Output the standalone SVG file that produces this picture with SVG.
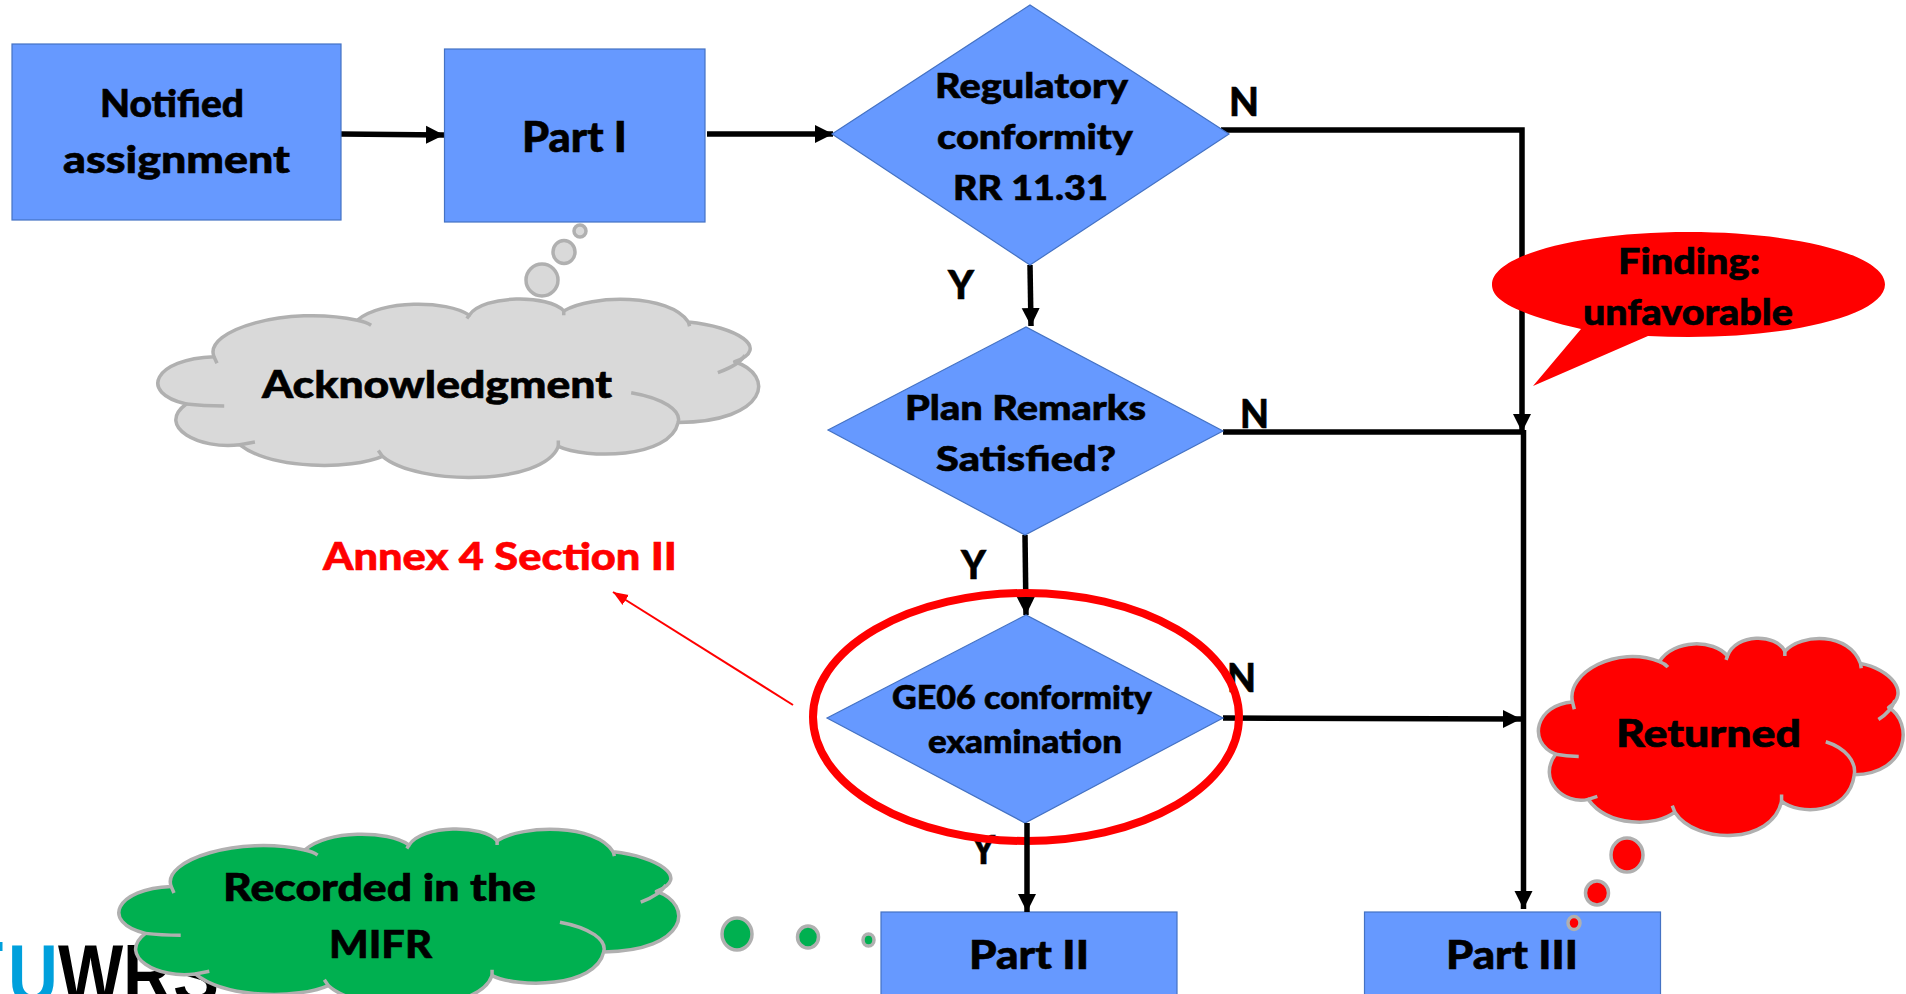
<svg xmlns="http://www.w3.org/2000/svg" xmlns:xlink="http://www.w3.org/1999/xlink" width="1906" height="994" viewBox="0 0 1906 994">
<style>
text{font-family:Lato,"Liberation Sans",sans-serif;font-weight:900;fill:#000;stroke:#000;stroke-width:.6;text-anchor:start}
.box{fill:#6699ff;stroke:#4472c4;stroke-width:1.2}
.o,.i{vector-effect:non-scaling-stroke;stroke:#b0b0b0;stroke-width:3.5}
.o{stroke-linejoin:round}
.i{fill:none}
.bub{stroke:#b0b0b0;stroke-width:3.5}
.c{fill:none;stroke:#000;stroke-width:5.500}
</style>
<defs>
<marker id="ah" markerUnits="userSpaceOnUse" markerWidth="19" markerHeight="19" refX="18" refY="9.5" orient="auto"><path d="M0,0.5L18,9.5L0,18.5z" fill="#000"/></marker>
<marker id="rh" markerUnits="userSpaceOnUse" markerWidth="16" markerHeight="14" refX="15" refY="7" orient="auto"><path d="M0,1L15,7L0,13z" fill="#f00"/></marker>
<g id="cl">
<path class="o" d="M93,328C75,180 215,40 331,124C370,10 480,10 517,96C540,-20 650,-20 674,72C720,-20 850,-25 881,134C960,160 1020,280 958,356C1026,430 1014,690 864,696C850,900 710,900 665,829C640,1050 430,1050 373,885C320,960 190,960 136,820C70,850 -5,720 47,592C-34,530 -6,340 93,328Z"/>
<path class="i" d="M93,328L98,365M331,124Q346,134 354,152M517,96L513,115M674,72L674,96M881,134L883,158M975,320Q965,375 930,417M786,529C840,560 870,630 864,696M665,829L665,796M373,885L366,852M136,820L161,805M47,592Q75,602 110,603"/>
</g>
</defs>
<rect width="1906" height="994" fill="#fff"/>
<g id="logo">
<rect x="0" y="942" width="2.500" height="9" fill="#00a0dc"/>
<text x="8" y="1003" font-size="84" style="font-family:'Liberation Sans',sans-serif;font-weight:700;stroke:none" textLength="211" lengthAdjust="spacingAndGlyphs"><tspan style="fill:#00a0dc">U</tspan>WRS</text>
</g>
<g id="connectors">
<path class="c" d="M341,134L444,135" marker-end="url(#ah)"/>
<path class="c" d="M707,134L833,134" marker-end="url(#ah)"/>
<path class="c" d="M1221,130H1522V432" marker-end="url(#ah)"/>
<path class="c" d="M1030,265L1031,326" marker-end="url(#ah)"/>
<path class="c" d="M1223,432H1523.500"/>
<path class="c" d="M1523.500,430V909" marker-end="url(#ah)"/>
<path class="c" d="M1025,535L1026,615" marker-end="url(#ah)"/>
<path class="c" d="M1223,718L1521,719" marker-end="url(#ah)"/>
<path d="M793,705L613,592" fill="none" stroke="#f00" stroke-width="2" marker-end="url(#rh)"/>
</g>
<g id="notified"><rect class="box" x="12" y="44" width="329" height="176"/><text x="100" y="117" font-size="38" textLength="144" lengthAdjust="spacingAndGlyphs">Notified</text><text x="63" y="173" font-size="38" textLength="227" lengthAdjust="spacingAndGlyphs">assignment</text></g>
<g id="part1"><rect class="box" x="444.500" y="49" width="260.500" height="173"/><text x="522" y="152" font-size="42" textLength="105" lengthAdjust="spacingAndGlyphs">Part I</text></g>
<g id="d1"><path class="box" d="M832,134L1030,5L1229,134L1030,265Z"/><text x="935" y="98" font-size="35" textLength="193" lengthAdjust="spacingAndGlyphs">Regulatory</text><text x="937" y="149" font-size="35" textLength="196" lengthAdjust="spacingAndGlyphs">conformity</text><text x="953" y="200" font-size="35" textLength="155" lengthAdjust="spacingAndGlyphs">RR 11.31</text></g>
<g id="d2"><path class="box" d="M828,430L1026,327L1223,431L1025,535Z"/><text x="905" y="420" font-size="35" textLength="241" lengthAdjust="spacingAndGlyphs">Plan Remarks</text><text x="936" y="471" font-size="35" textLength="180" lengthAdjust="spacingAndGlyphs">Satisfied?</text></g>
<g id="d3"><path class="box" d="M827,718L1026,615L1223,718L1025,823Z"/><text x="892" y="709" font-size="32" textLength="260" lengthAdjust="spacingAndGlyphs">GE06 conformity</text><text x="928" y="753" font-size="32" textLength="194" lengthAdjust="spacingAndGlyphs">examination</text></g>
<g id="part2"><rect class="box" x="881" y="912" width="296" height="90"/><text x="969" y="969" font-size="40" textLength="120" lengthAdjust="spacingAndGlyphs">Part II</text></g>
<g id="part3"><rect class="box" x="1364.500" y="912" width="296" height="90"/><text x="1446" y="969" font-size="40" textLength="132" lengthAdjust="spacingAndGlyphs">Part III</text></g>
<g id="labels">
<text x="1229" y="116" font-size="40" textLength="30" lengthAdjust="spacingAndGlyphs">N</text>
<text x="948" y="299" font-size="40" textLength="26" lengthAdjust="spacingAndGlyphs">Y</text>
<text x="1240" y="428" font-size="40" textLength="29" lengthAdjust="spacingAndGlyphs">N</text>
<text x="961" y="579" font-size="40" textLength="25" lengthAdjust="spacingAndGlyphs">Y</text>
<text x="1227" y="692" font-size="40" textLength="29" lengthAdjust="spacingAndGlyphs">N</text>
<text x="972" y="864" font-size="40" textLength="23" lengthAdjust="spacingAndGlyphs">Y</text>
</g>
<g id="highlight"><ellipse cx="1026" cy="717" rx="213" ry="124" fill="none" stroke="#f00" stroke-width="8"/></g>
<path class="c" d="M1027,823V912" marker-end="url(#ah)"/>
<g id="annex"><text x="323" y="570" font-size="38" style="fill:#f00;stroke:#f00" textLength="354" lengthAdjust="spacingAndGlyphs">Annex 4 Section II</text></g>
<g id="finding"><path d="M1581,329C1500,310 1492,295 1492,284.500C1492,255 1580,232 1688.500,232C1797,232 1885,255 1885,284.500C1885,314 1797,337 1688.500,337Q1668,337 1648,336L1533,386Z" fill="#f00"/><text x="1618" y="274" font-size="36" textLength="142" lengthAdjust="spacingAndGlyphs">Finding:</text><text x="1583" y="325" font-size="36" textLength="210" lengthAdjust="spacingAndGlyphs">unfavorable</text></g>
<g id="ack"><ellipse class="bub" cx="580" cy="231" rx="6" ry="6" fill="#d9d9d9"/><ellipse class="bub" cx="564" cy="252" rx="11" ry="11.500" fill="#d9d9d9"/><ellipse class="bub" cx="542" cy="280" rx="16" ry="16" fill="#d9d9d9"/><use xlink:href="#cl" href="#cl" fill="#d9d9d9" transform="translate(158,298) scale(.602,.179)"/><text x="262" y="398" font-size="38" textLength="350" lengthAdjust="spacingAndGlyphs">Acknowledgment</text></g>
<g id="mifr"><ellipse class="bub" cx="737" cy="934" rx="15" ry="16" fill="#00b050"/><ellipse class="bub" cx="808" cy="937" rx="10.500" ry="11" fill="#00b050"/><ellipse class="bub" cx="868.500" cy="940" rx="5.500" ry="6" fill="#00b050"/><use xlink:href="#cl" href="#cl" fill="#00b050" transform="translate(119,828) scale(.561,.178)"/><text x="223" y="901" font-size="38" textLength="313" lengthAdjust="spacingAndGlyphs">Recorded in the</text><text x="329" y="958" font-size="38" textLength="103" lengthAdjust="spacingAndGlyphs">MIFR</text></g>
<g id="returned"><ellipse class="bub" cx="1627" cy="855" rx="16" ry="17" fill="#f00"/><ellipse class="bub" cx="1597" cy="893" rx="11.500" ry="12" fill="#f00"/><ellipse class="bub" cx="1574" cy="923" rx="6" ry="6.500" fill="#f00"/><use xlink:href="#cl" href="#cl" fill="#f00" transform="translate(1538.500,637) scale(.3655,.198)"/><text x="1616" y="747" font-size="38" textLength="185" lengthAdjust="spacingAndGlyphs">Returned</text></g>
</svg>
